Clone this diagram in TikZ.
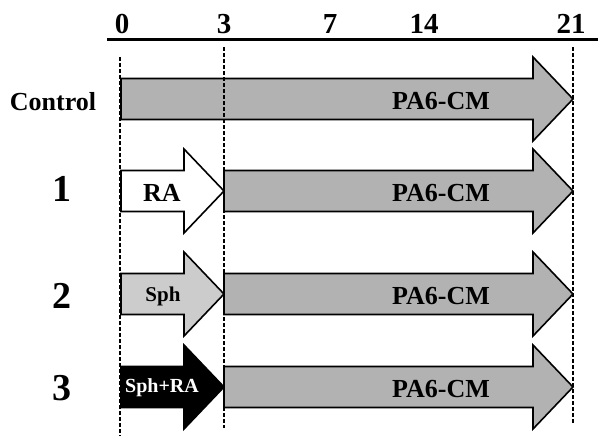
\documentclass[tikz,border=0pt]{standalone}
\usepackage{fontspec}
\setmainfont{Liberation Serif}
\tikzset{
  lbl/.style={inner sep=0pt, anchor=center, font=\bfseries\fontsize{#1}{#1}\selectfont},
  guide/.style={line width=1.3pt, dash pattern=on 4pt off 2pt},
  pafill/.style={draw=black, line width=1.6pt, fill=black!30, line join=miter},
  rafill/.style={draw=black, line width=1.6pt, fill=white, line join=miter},
  sphfill/.style={draw=black, line width=1.6pt, fill=black!20, line join=miter},
  bothfill/.style={draw=black, line width=1.6pt, fill=black, line join=miter},
}
% #1 start x, #2 tip x, #3 centre y, #4 style
\newcommand{\blockarrow}[4]{%
  \draw[#4] (#1,#3-20.5) -- (#2-40,#3-20.5) -- (#2-40,#3-42) -- (#2,#3)
    -- (#2-40,#3+42) -- (#2-40,#3+20.5) -- (#1,#3+20.5) -- cycle;}
\begin{document}
\begin{tikzpicture}[x=1pt,y=-1pt]
\useasboundingbox (0,0) rectangle (602,436);
% time axis
\coordinate (axL) at (107,39.5);
\coordinate (axR) at (598,39.5);
\draw[line width=2.6pt] (axL) -- (axR);
\node[lbl=29] (t0) at (122,24) {0};
\node[lbl=29] (t3) at (224,24) {3};
\node[lbl=29] (t7) at (330,24) {7};
\node[lbl=29] (t14) at (424,24) {14};
\node[lbl=29] (t21) at (571,24) {21};
% arrows
\blockarrow{121}{573}{99}{pafill}
\blockarrow{121}{224}{191}{rafill}
\blockarrow{224}{573}{191}{pafill}
\blockarrow{121}{224}{294}{sphfill}
\blockarrow{224}{573}{294}{pafill}
\blockarrow{121}{224}{387}{bothfill}
\blockarrow{224}{573}{387}{pafill}
% guides
\coordinate (g0a) at (120,57);  \coordinate (g0b) at (120,436);
\coordinate (g3a) at (224,47);  \coordinate (g3b) at (224,428);
\coordinate (g21a) at (573,47); \coordinate (g21b) at (573,424);
\draw[guide] (g0a) -- (g0b);
\draw[guide] (g3a) -- (g3b);
\draw[guide] (g21a) -- (g21b);
% row labels
\node[lbl=26] (rc) at (53,102) {Control};
\node[lbl=38] (r1) at (62,189) {1};
\node[lbl=38] (r2) at (62,296) {2};
\node[lbl=38] (r3) at (62,388) {3};
% arrow texts
\node[lbl=26] (pc) at (441,101) {PA6-CM};
\node[lbl=26] (p1) at (441,193) {PA6-CM};
\node[lbl=26] (p2) at (441,296) {PA6-CM};
\node[lbl=26] (p3) at (441,389) {PA6-CM};
\node[lbl=26] (ra) at (162,193) {RA};
\node[lbl=21] (sph) at (163,296) {Sph};
\node[lbl=20, text=white] (sphra) at (162,388) {Sph+RA};
\end{tikzpicture}
\end{document}
